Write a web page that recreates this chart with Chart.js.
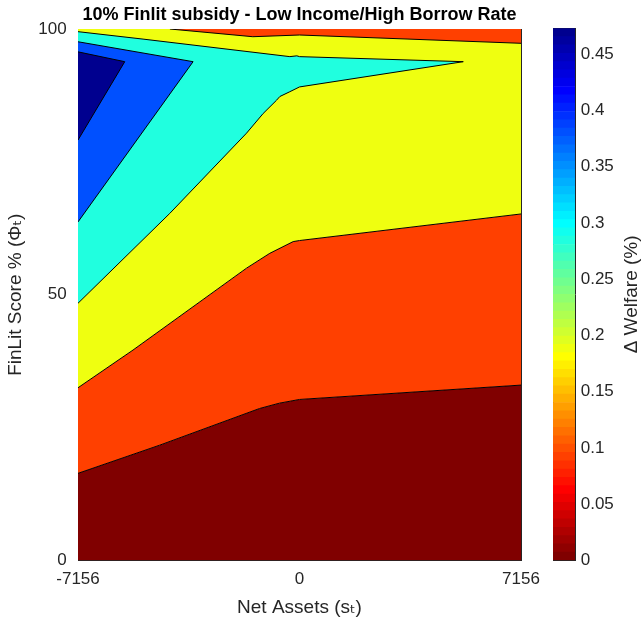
<!DOCTYPE html>
<html>
<head>
<meta charset="utf-8">
<script src="https://cdn.jsdelivr.net/npm/chart.js@4.4.0/dist/chart.umd.min.js"></script>
<style>
body { margin: 0; background: #fff; }
#wrap { position: relative; width: 643px; height: 622px; }
#wrap canvas { position: absolute; left: 0; top: 0; }
#cbar { pointer-events: none; }
</style>
</head>
<body>
<div id="wrap">
  <canvas id="mychart" width="643" height="622"></canvas>
  <canvas id="cbar" width="643" height="622"></canvas>
</div>
<script>
// akser
const xTicks = [-7156, 0, 7156];
const yTicks = [0, 50, 100];
const cbarTicks = [0, 0.05, 0.1, 0.15, 0.2, 0.25, 0.3, 0.35, 0.4, 0.45];
const cbarMax = 0.473;

// konturlinjer, x = net assets, y = finlit score
const darkX = [-7156, -4515, -1290, -650, 0, 7156];
const darkY = [16.4, 21.7, 28.6, 29.6, 30.3, 33.0];

const orangeX = [-7156, -5378, -1712, -959, -205, 0, 7156];
const orangeY = [32.5, 39.6, 55.0, 57.8, 60.0, 60.2, 65.2];

const topX = [-7156, 7156];
const topY = [100, 100];

const cyanLowX = [-7156, -4192, -1712, -1175, -742, -635, -312, 0, 5291];
const cyanLowY = [48.4, 65.3, 80.4, 84.1, 86.6, 87.3, 88.2, 89.1, 93.85];
const cyanTopX = [-7156, -5055, -312, -86, 0, 5291];
const cyanTopY = [99.5, 98.1, 94.8, 94.95, 94.8, 93.85];

const blueLowX = [-7156, -3438];
const blueLowY = [63.7, 93.85];
const blueTopX = [-7156, -3438];
const blueTopY = [97.6, 93.85];

const navyLowX = [-7156, -5646];
const navyLowY = [79.1, 93.85];
const navyTopX = [-7156, -5646];
const navyTopY = [95.7, 93.85];

const redTopX = [-4187, -1508, 0, 7156];
const redTopY = [100, 98.55, 98.87, 97.31];

const fam = "'Liberation Sans', Arial, 'DejaVu Sans', sans-serif";
const axisColor = '#262626';

function pts(xs, ys) {
    return xs.map((x, i) => ({ x: x, y: ys[i] }));
}

//lager et konturlag
function lag(xs, ys, fill, farge, order, linje) {
    return {
        data: pts(xs, ys),
        fill: fill,
        backgroundColor: farge,
        borderColor: linje === false ? 'transparent' : '#000',
        borderWidth: linje === false ? 0 : 1,
        pointRadius: 0,
        tension: 0,
        order: order,
        xAxisID: 'x',
        yAxisID: 'y'
    };
}

const ctx = document.getElementById('mychart');
const mychart = new Chart(ctx, {
    type: 'line',
    data: {
        datasets: [
            lag(darkX, darkY, 'start', '#800000', 9),
            lag(orangeX, orangeY, '-1', '#FF4000', 8),
            lag(topX, topY, '-1', '#EFFF10', 7, false),
            lag(cyanLowX, cyanLowY, false, 'transparent', 6),
            lag(cyanTopX, cyanTopY, '-1', '#20FFDF', 5),
            lag(blueLowX, blueLowY, false, 'transparent', 4),
            lag(blueTopX, blueTopY, '-1', '#0050FF', 3),
            lag(navyLowX, navyLowY, false, 'transparent', 2),
            lag(navyTopX, navyTopY, '-1', '#00008F', 1),
            lag(redTopX, redTopY, 'end', '#FF4000', 0)
        ]
    },
    options: {
        responsive: false,
        animation: false,
        events: [],
        layout: { padding: { left: 0, right: 122, top: 0, bottom: 0 } },
        plugins: {
            legend: { display: false },
            tooltip: { enabled: false },
            filler: { drawTime: 'beforeDatasetsDraw' },
            title: {
                display: true,
                text: '10% Finlit subsidy - Low Income/High Borrow Rate',
                fullSize: false,
                color: '#000',
                font: { family: fam, size: 18, weight: 'bold' },
                padding: { top: 4, bottom: 3.4 }
            }
        },
        scales: {
            x: {
                type: 'linear', min: -7156, max: 7156, position: 'bottom', z: 1,
                afterBuildTicks: s => { s.ticks = xTicks.map(v => ({ value: v })); },
                afterFit: s => { s.height = 61.5; },
                ticks: { callback: v => String(v), color: axisColor, font: { family: fam, size: 17 }, padding: 13.3, maxRotation: 0, autoSkip: false },
                grid: { drawOnChartArea: false, tickLength: -5, color: axisColor },
                border: { color: axisColor, width: 1 },
                title: { display: true, text: 'Net Assets (sₜ)', color: axisColor, font: { family: fam, size: 19 }, padding: { top: 0, bottom: 2.6 } }
            },
            x2: {
                type: 'linear', min: -7156, max: 7156, position: 'top', z: 1,
                afterBuildTicks: s => { s.ticks = xTicks.map(v => ({ value: v })); },
                afterFit: s => { s.height = 0; },
                ticks: { display: false },
                grid: { drawOnChartArea: false, tickLength: -5, color: axisColor },
                border: { color: axisColor, width: 1 }
            },
            y: {
                type: 'linear', min: 0, max: 100, position: 'left', z: 1,
                afterBuildTicks: s => { s.ticks = yTicks.map(v => ({ value: v })); },
                afterFit: s => { s.width = 78; },
                ticks: { callback: v => String(v), color: axisColor, font: { family: fam, size: 17 }, padding: 16.3 },
                grid: { drawOnChartArea: false, tickLength: -5, color: axisColor },
                border: { color: axisColor, width: 1 },
                title: { display: true, text: 'FinLit Score % (Φₜ)', color: axisColor, font: { family: fam, size: 19 }, padding: { top: 4, bottom: 0 } }
            },
            y2: {
                type: 'linear', min: 0, max: 100, position: 'right', z: 1,
                afterBuildTicks: s => { s.ticks = yTicks.map(v => ({ value: v })); },
                afterFit: s => { s.width = 0; },
                ticks: { display: false },
                grid: { drawOnChartArea: false, tickLength: -5, color: axisColor },
                border: { color: axisColor, width: 1 }
            }
        }
    }
});

//jet fargekart som i matlab
function jet(m) {
    const n = Math.ceil(m / 4);
    const u = [];
    for (let i = 1; i <= n; i++) u.push(i / n);
    for (let i = 1; i < n; i++) u.push(1);
    for (let i = n; i >= 1; i--) u.push(i / n);
    const g0 = Math.ceil(n / 2) - (m % 4 === 1 ? 1 : 0);
    const r = new Array(m).fill(0), g = new Array(m).fill(0), b = new Array(m).fill(0);
    u.forEach((val, k) => {
        const gi = g0 + k + 1;
        const ri = gi + n, bi = gi - n;
        if (gi >= 1 && gi <= m) g[gi - 1] = val;
        if (ri >= 1 && ri <= m) r[ri - 1] = val;
        if (bi >= 1 && bi <= m) b[bi - 1] = val;
    });
    return r.map((_, i) => 'rgb(' + Math.round(r[i] * 255) + ',' + Math.round(g[i] * 255) + ',' + Math.round(b[i] * 255) + ')');
}

// fargeskala, mørk rød nederst
const cmap = jet(64).reverse();
const steg = cbarMax / cmap.length;

const cbarTittel = {
    id: 'cbarTittel',
    afterDraw(chart) {
        const c = chart.ctx, a = chart.chartArea;
        c.save();
        c.translate(a.right + 57, (a.top + a.bottom) / 2);
        c.rotate(-Math.PI / 2);
        c.font = '19px ' + fam;
        c.fillStyle = axisColor;
        c.textAlign = 'center';
        c.textBaseline = 'middle';
        c.fillText('Δ Welfare (%)', 0, 0);
        c.restore();
    }
};

const cbar = new Chart(document.getElementById('cbar'), {
    type: 'bar',
    data: {
        labels: ['cb'],
        datasets: cmap.map(farge => ({
            data: [steg],
            backgroundColor: farge,
            borderWidth: 0,
            barPercentage: 1,
            categoryPercentage: 1,
            xAxisID: 'x',
            yAxisID: 'y'
        }))
    },
    options: {
        responsive: false,
        animation: false,
        events: [],
        layout: { padding: { left: 553, right: 0, top: 28.3, bottom: 61.5 } },
        plugins: { legend: { display: false }, tooltip: { enabled: false } },
        scales: {
            x: {
                type: 'category', stacked: true, position: 'bottom', z: 1,
                afterFit: s => { s.height = 0; },
                ticks: { display: false },
                grid: { display: false, drawTicks: false },
                border: { color: axisColor, width: 1 }
            },
            xt: {
                type: 'category', position: 'top', z: 1,
                afterFit: s => { s.height = 0; },
                ticks: { display: false },
                grid: { display: false, drawTicks: false },
                border: { color: axisColor, width: 1 }
            },
            y: {
                type: 'linear', stacked: true, min: 0, max: cbarMax, position: 'right', z: 1,
                afterBuildTicks: s => { s.ticks = cbarTicks.map(v => ({ value: v })); },
                afterFit: s => { s.width = 68; },
                ticks: { callback: v => String(v), color: axisColor, font: { family: fam, size: 17 }, padding: 10.7 },
                grid: { drawOnChartArea: false, tickLength: -5, color: axisColor },
                border: { color: axisColor, width: 1 }
            },
            yl: {
                type: 'linear', min: 0, max: cbarMax, position: 'left', z: 1,
                afterFit: s => { s.width = 0; },
                ticks: { display: false },
                grid: { display: false, drawTicks: false },
                border: { color: axisColor, width: 1 }
            }
        }
    },
    plugins: [cbarTittel]
});
</script>
</body>
</html>
